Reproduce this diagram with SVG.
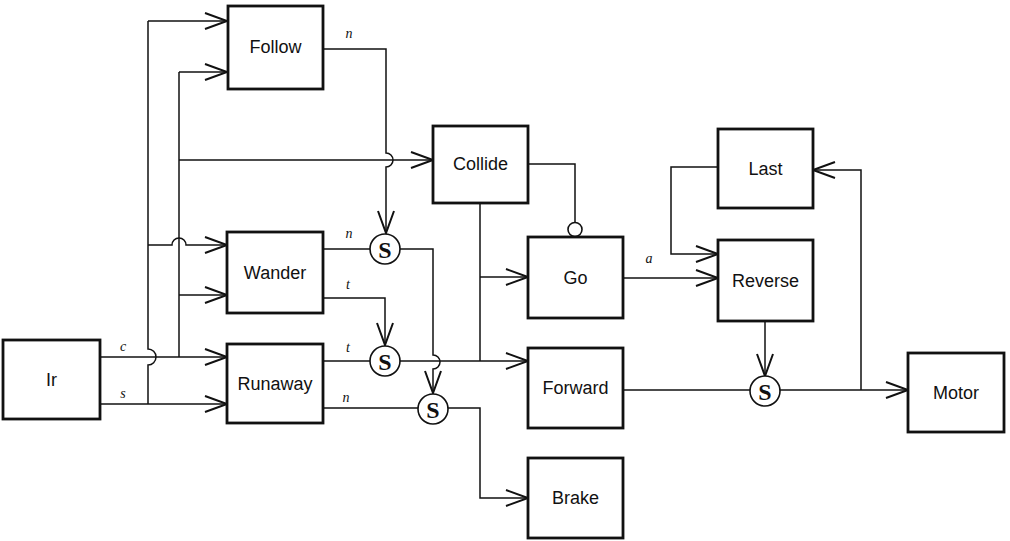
<svg xmlns="http://www.w3.org/2000/svg" width="1010" height="541" viewBox="0 0 1010 541">
  <style>
    .box { fill: #ffffff; stroke: #111111; stroke-width: 2.8; }
    .lbl { font-family: "Liberation Sans", Arial, sans-serif; font-size: 18px; fill: #111111; text-anchor: middle; dominant-baseline: central; }
    .wire { fill: none; stroke: #111111; stroke-width: 1.5; }
    .arr { marker-end: url(#open); }
    .sup { fill: #ffffff; stroke: #111111; stroke-width: 1.6; }
    .s { font-family: "Liberation Serif", "Times New Roman", serif; font-size: 24px; font-weight: bold; fill: #111111; text-anchor: middle; dominant-baseline: central; }
    .var { font-family: "Liberation Serif", "Times New Roman", serif; font-style: italic; font-size: 14px; fill: #111111; text-anchor: middle; }
  </style>
  <defs>
    <marker id="open" markerUnits="userSpaceOnUse" markerWidth="30" markerHeight="24" refX="0" refY="0" viewBox="-24 -12 30 24" orient="auto" overflow="visible">
      <path d="M-22,-8 L0,0 L-22,8" fill="none" stroke="#111111" stroke-width="2"/>
    </marker>
  </defs>
  <rect width="1010" height="541" fill="#ffffff"/>

  <!-- connectors -->
  <g id="connectors">
    <!-- s bus: Ir -> Runaway, Wander, Follow -->
    <path class="wire arr" d="M100,404 H227"/>
    <path class="wire" d="M148,404 V365 A8,8 0 0 0 148,349 V21"/>
    <path class="wire arr" d="M148,21 H227"/>
    <path class="wire arr" d="M148,245 H172 A7,7 0 0 1 186,245 H227"/>
    <!-- c bus: Ir -> Runaway, Wander, Collide, Follow -->
    <path class="wire arr" d="M100,357 H227"/>
    <path class="wire" d="M179,357 V72"/>
    <path class="wire arr" d="M179,72 H227"/>
    <path class="wire arr" d="M179,160 H433"/>
    <path class="wire arr" d="M179,295 H227"/>
    <!-- Follow n -> S1 -->
    <path class="wire arr" d="M323,49 H386 V153 A7,7 0 0 1 386,167 V233"/>
    <!-- Wander n through S1 -> S3 -->
    <path class="wire arr" d="M323,249 H433 V355 A7,7 0 0 1 433,369 V393"/>
    <!-- Wander t -> S2 -->
    <path class="wire arr" d="M323,298 H385 V345"/>
    <!-- Runaway t through S2 -> Forward -->
    <path class="wire arr" d="M323,361 H528"/>
    <!-- Runaway n through S3 -> Brake -->
    <path class="wire arr" d="M323,408 H480 V498 H528"/>
    <!-- Collide -> Go, Forward -->
    <path class="wire" d="M480,203 V361"/>
    <path class="wire arr" d="M480,277 H528"/>
    <!-- Collide inhibits Go -->
    <path class="wire" d="M528,164 H575 V222"/>
    <circle cx="575" cy="229.5" r="7" fill="#ffffff" stroke="#111111" stroke-width="1.6"/>
    <!-- Go a -> Reverse -->
    <path class="wire arr" d="M623,278 H718"/>
    <!-- Last -> Reverse -->
    <path class="wire arr" d="M718,167 H671 V254 H718"/>
    <!-- Reverse -> S4 -->
    <path class="wire arr" d="M765,321 V376"/>
    <!-- Forward through S4 -> Motor, feedback to Last -->
    <path class="wire arr" d="M623,390 H908"/>
    <path class="wire arr" d="M861,390 V170 H813"/>
  </g>

  <!-- suppressor nodes -->
  <g id="s1"><circle class="sup" cx="385" cy="249" r="15"/><text class="s" x="385" y="250">S</text></g>
  <g id="s2"><circle class="sup" cx="385" cy="361" r="15"/><text class="s" x="385" y="362">S</text></g>
  <g id="s3"><circle class="sup" cx="433" cy="409" r="15"/><text class="s" x="433" y="410">S</text></g>
  <g id="s4"><circle class="sup" cx="765" cy="391" r="15"/><text class="s" x="765" y="392">S</text></g>

  <!-- wire labels -->
  <g id="wire-labels">
    <text class="var" x="123" y="351">c</text>
    <text class="var" x="123" y="398">s</text>
    <text class="var" x="349" y="38">n</text>
    <text class="var" x="349" y="238">n</text>
    <text class="var" x="348" y="289">t</text>
    <text class="var" x="348" y="352">t</text>
    <text class="var" x="346" y="402">n</text>
    <text class="var" x="649" y="263">a</text>
  </g>

  <!-- module nodes -->
  <g id="ir"><rect class="box" x="3" y="340" width="97" height="79"/><text class="lbl" x="51.5" y="380">Ir</text></g>
  <g id="follow"><rect class="box" x="228" y="6" width="95" height="83"/><text class="lbl" x="275.5" y="47">Follow</text></g>
  <g id="wander"><rect class="box" x="227" y="232" width="96" height="81"/><text class="lbl" x="275" y="273">Wander</text></g>
  <g id="runaway"><rect class="box" x="227" y="344" width="96" height="79"/><text class="lbl" x="275" y="384">Runaway</text></g>
  <g id="collide"><rect class="box" x="433" y="126" width="95" height="77"/><text class="lbl" x="480.5" y="164">Collide</text></g>
  <g id="go"><rect class="box" x="528" y="237" width="95" height="81"/><text class="lbl" x="575.5" y="278">Go</text></g>
  <g id="forward"><rect class="box" x="528" y="348" width="95" height="80"/><text class="lbl" x="575.5" y="388">Forward</text></g>
  <g id="brake"><rect class="box" x="528" y="458" width="95" height="80"/><text class="lbl" x="575.5" y="498">Brake</text></g>
  <g id="last"><rect class="box" x="718" y="129" width="95" height="79"/><text class="lbl" x="765.5" y="169">Last</text></g>
  <g id="reverse"><rect class="box" x="718" y="240" width="95" height="81"/><text class="lbl" x="765.5" y="281">Reverse</text></g>
  <g id="motor"><rect class="box" x="908" y="353" width="96" height="79"/><text class="lbl" x="956" y="393">Motor</text></g>
</svg>
